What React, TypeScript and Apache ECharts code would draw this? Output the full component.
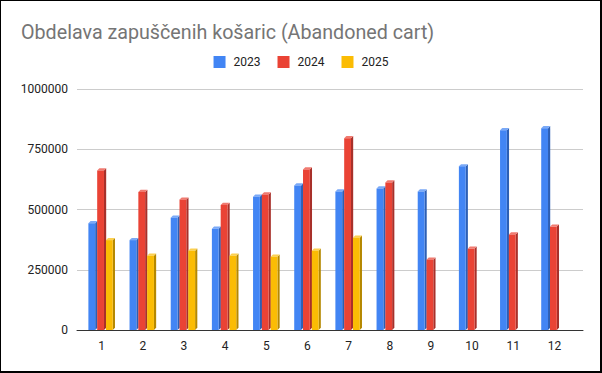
import React, { useEffect, useRef } from "react";
import * as echarts from "echarts";

const categories = ["1", "2", "3", "4", "5", "6", "7", "8", "9", "10", "11", "12"];
const seriesNames = ["2023", "2024", "2025"];
const values2023 = [443000, 373000, 466000, 420000, 553000, 600000, 575000, 587000, 575000, 679000, 829000, 837000];
const values2024 = [662000, 573000, 541000, 519000, 562000, 666000, 796000, 612000, 292000, 337000, 396000, 429000];
const values2025 = [373000, 308000, 329000, 308000, 304000, 329000, 383000, null, null, null, null, null];
const yTicks = [0, 250000, 500000, 750000, 1000000];

const frontColors = ["#4285f4", "#ea4335", "#fbbc04"];
const sideColors = ["#2c5fb5", "#a8302a", "#b58800"];
const topColors = ["#7aa9f7", "#f07a70", "#fcd050"];

const FONT = "Roboto, Arial, sans-serif";

export default function App() {
  const ref = useRef<HTMLDivElement>(null);
  useEffect(() => {
    document.body.style.margin = "0";
    const chart = echarts.init(ref.current!, null, { renderer: "svg" });
    const all = [values2023, values2024, values2025];
    const pitch = 8.8;
    const frontW = 6.8;
    const depth = 2.2;
    const makeSeries = (idx: number) => ({
      type: "custom",
      name: seriesNames[idx],
      xAxisIndex: 1,
      yAxisIndex: 1,
      color: frontColors[idx],
      data: all[idx].map((v, i) => (v == null ? null : [i, v])).filter((d) => d != null),
      renderItem: (params: any, api: any) => {
        const c = api.value(0);
        const v = api.value(1);
        const top = api.coord([c, v]);
        const base = api.coord([c, 0]);
        const x0 = top[0] - 13.2 + idx * pitch;
        const x1 = x0 + frontW;
        const yT = top[1];
        const yB = base[1];
        return {
          type: "group",
          children: [
            {
              type: "polygon",
              shape: { points: [[x1, yT], [x1 + depth, yT - depth], [x1 + depth, yB - depth], [x1, yB]] },
              style: { fill: sideColors[idx] },
            },
            {
              type: "polygon",
              shape: { points: [[x0, yT], [x0 + depth, yT - depth], [x1 + depth, yT - depth], [x1, yT]] },
              style: { fill: topColors[idx] },
            },
            {
              type: "rect",
              shape: { x: x0, y: yT, width: frontW, height: yB - yT },
              style: { fill: frontColors[idx] },
            },
          ],
        };
      },
    });
    chart.setOption({
      animation: false,
      backgroundColor: "#ffffff",
      title: {
        text: "Obdelava zapuščenih košaric (Abandoned cart)",
        left: 16,
        top: 17,
        textStyle: { fontFamily: FONT, fontSize: 19.7, fontWeight: "normal", color: "#757575" },
      },
      legend: {
        top: 56,
        left: "center",
        padding: 0,
        itemWidth: 12,
        itemHeight: 12,
        itemGap: 17,
        icon: "rect",
        data: seriesNames.map((n, i) => ({ name: n, itemStyle: { color: frontColors[i] } })),
        textStyle: { fontFamily: FONT, fontSize: 12, color: "#222222", padding: [0, 0, 0, 3] },
      },
      grid: [
        { left: 77, right: 19, top: 89, bottom: 43 },
        { left: 81, right: 27, top: 89, bottom: 43 },
      ],
      xAxis: [
        {
          type: "value",
          gridIndex: 0,
          min: 0,
          max: 1,
          axisLabel: { show: false },
          axisTick: { show: false },
          splitLine: { show: false },
          axisLine: { show: true, lineStyle: { color: "#333333", width: 1 } },
        },
        {
          type: "category",
          gridIndex: 1,
          data: categories,
          axisLine: { show: false },
          axisTick: { show: false },
          axisLabel: { fontFamily: FONT, fontSize: 12, color: "#222222", margin: 10 },
        },
      ],
      yAxis: [
        {
          type: "value",
          gridIndex: 0,
          min: 0,
          max: yTicks[yTicks.length - 1],
          interval: yTicks[1] - yTicks[0],
          axisLine: { show: false },
          axisTick: { show: false },
          axisLabel: {
            fontFamily: FONT,
            fontSize: 12,
            color: "#222222",
            margin: 9,
            formatter: (v: number) => String(v),
          },
          splitLine: { lineStyle: { color: "#cccccc", width: 1 } },
        },
        {
          type: "value",
          gridIndex: 1,
          min: 0,
          max: yTicks[yTicks.length - 1],
          show: false,
          splitLine: { show: false },
        },
      ],
      series: [0, 1, 2].map(makeSeries),
    });
    return () => chart.dispose();
  }, []);
  return (
    <div style={{ position: "relative", width: 602, height: 373 }}>
      <div ref={ref} style={{ width: 602, height: 373 }} />
      <div
        style={{
          position: "absolute",
          left: 0,
          top: 0,
          width: 602,
          height: 373,
          boxSizing: "border-box",
          border: "1px solid #000",
          borderRightWidth: 2,
          borderBottomWidth: 2,
          pointerEvents: "none",
        }}
      />
    </div>
  );
}
